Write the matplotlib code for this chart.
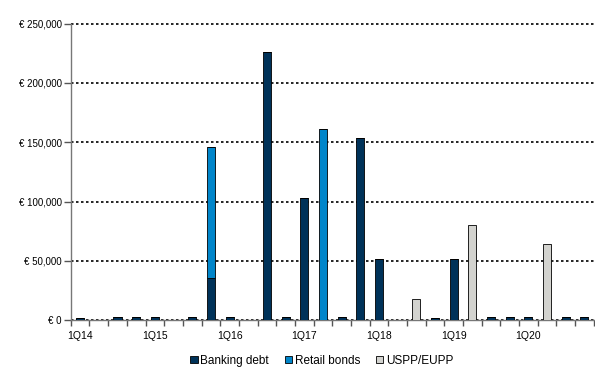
import matplotlib.pyplot as plt
import numpy as np
from matplotlib.ticker import FuncFormatter

plt.rcParams['font.family'] = ['Liberation Sans', 'DejaVu Sans']

# quarters 1Q14 .. 4Q20 (thousand EUR)
quarters = [f"{q}Q{y}" for y in range(14, 21) for q in range(1, 5)]
banking = [1800, 0, 2300, 2300, 2300, 0, 2300, 35700, 2300, 0,
           225800, 2300, 103000, 0, 2300, 153400, 51500, 0, 0, 1800,
           51500, 0, 2300, 2300, 2300, 0, 2300, 2300]
retail = [0, 0, 0, 0, 0, 0, 0, 110000, 0, 0,
          0, 0, 0, 161300, 0, 0, 0, 0, 0, 0,
          0, 0, 0, 0, 0, 0, 0, 0]
uspp = [0, 0, 0, 0, 0, 0, 0, 0, 0, 0,
        0, 0, 0, 0, 0, 0, 0, 0, 17700, 0,
        0, 80500, 0, 0, 0, 64400, 0, 0]

c_bank = '#003259'
c_retail = '#0085CA'
c_uspp = '#D3D3CF'

fig = plt.figure(figsize=(5.95, 3.68), dpi=100)
ax = fig.add_axes([0.119, 0.130, 0.879, 0.809])

x = np.arange(len(quarters))
b = np.array(banking)
r = np.array(retail)
u = np.array(uspp)
w = 0.43
ax.bar(x, b, w, color=c_bank, edgecolor='black', linewidth=0.6, label='Banking debt', zorder=3)
ax.bar(x, r, w, bottom=b, color=c_retail, edgecolor='black', linewidth=0.6, label='Retail bonds', zorder=3)
ax.bar(x, u, w, bottom=b + r, color=c_uspp, edgecolor='black', linewidth=0.6, label='USPP/EUPP', zorder=3)

ax.set_xlim(-0.5, len(quarters) - 0.5)
ax.set_ylim(0, 251000)
ax.set_yticks(np.arange(0, 250001, 50000))
ax.yaxis.set_major_formatter(FuncFormatter(lambda v, p: f"€ {int(v):,}"))
ax.yaxis.grid(True, linestyle=(0, (1.5, 1.5)), color='black', linewidth=1.2, zorder=1)

ax.set_xticks(x[::4])
ax.set_xticklabels(quarters[::4])
ax.set_xticks(np.arange(-0.5, len(quarters), 1), minor=True)
ax.tick_params(axis='x', which='major', length=0, labelsize=7.5, pad=8, colors='black')
ax.tick_params(axis='x', which='minor', length=4.5, width=1.0, direction='out', color='#555555')
ax.tick_params(axis='y', length=5, width=1.0, direction='out', labelsize=7, color='#555555', pad=1.5)

for s in ['top', 'right']:
    ax.spines[s].set_visible(False)
for s in ['left', 'bottom']:
    ax.spines[s].set_color('#777777')
    ax.spines[s].set_linewidth(1.0)
ax.spines['left'].set_bounds(0, 250000)

ax.legend(loc='upper center', bbox_to_anchor=(0.48, -0.08), ncol=3, frameon=False,
          fontsize=8.5, handlelength=0.6, handleheight=0.6, handletextpad=0.2,
          columnspacing=1.4)

fig.savefig('out.png', dpi=100)
